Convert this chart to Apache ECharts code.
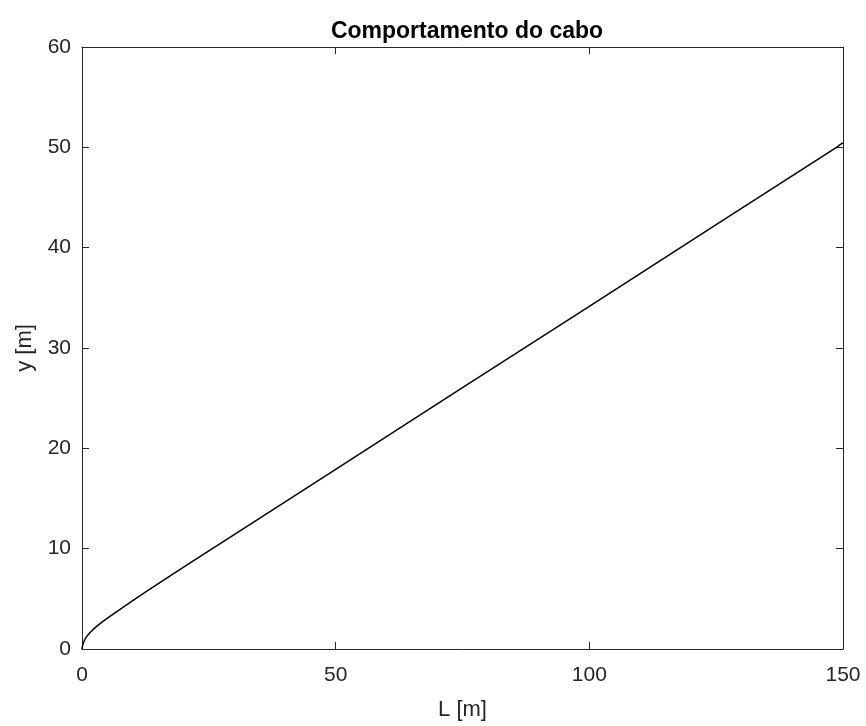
<!DOCTYPE html>
<html>
<head>
<meta charset="utf-8">
<script src="https://cdn.jsdelivr.net/npm/echarts@6/dist/echarts.min.js"></script>
<style>html,body{margin:0;padding:0;background:#fff}#c{width:866px;height:726px}</style>
</head>
<body>
<div id="c"></div>
<script>
const titleText = 'Comportamento do cabo';
const xName = 'L [m]';
const yName = 'y [m]';
const xTicks = [0, 50, 100, 150];
const yTicks = [0, 10, 20, 30, 40, 50, 60];
const lengthL = [0, 0.1, 0.3, 0.6, 1, 1.5, 2.2, 3, 4, 5.5, 7.5, 10, 13, 17, 22, 30, 50, 75, 100, 125, 148.8, 149.5, 150];
const heightY = [0, 0.33, 0.65, 0.98, 1.3, 1.6, 1.95, 2.3, 2.7, 3.25, 3.96, 4.83, 5.84, 7.16, 8.8, 11.41, 17.91, 26.04, 34.16, 42.29, 50.02, 50.3, 50.45];

const data = lengthL.map((v, i) => [v, heightY[i]]);
const axisColor = '#262626';
const font = 'Liberation Sans, Arial, Helvetica, sans-serif';
const chart = echarts.init(document.getElementById('c'));
const baseX = {
  type: 'value', min: xTicks[0], max: xTicks[xTicks.length - 1], interval: xTicks[1] - xTicks[0],
  axisLine: { show: true, onZero: false, lineStyle: { color: axisColor, width: 1 } },
  axisTick: { show: true, inside: true, length: 7, lineStyle: { color: axisColor } },
  splitLine: { show: false }
};
const baseY = {
  type: 'value', min: yTicks[0], max: yTicks[yTicks.length - 1], interval: yTicks[1] - yTicks[0],
  axisLine: { show: true, onZero: false, lineStyle: { color: axisColor, width: 1 } },
  axisTick: { show: true, inside: true, length: 7, lineStyle: { color: axisColor } },
  splitLine: { show: false }
};
chart.setOption({
  animation: false,
  backgroundColor: '#fff',
  title: {
    text: titleText, left: 462, top: 15, textAlign: 'center',
    textStyle: { fontFamily: font, fontSize: 23, fontWeight: 'bold', color: '#000' }
  },
  grid: { left: 82, right: 23, top: 47, bottom: 77, containLabel: false },
  xAxis: [
    Object.assign({}, baseX, {
      position: 'bottom', name: xName, nameLocation: 'middle', nameGap: 50,
      nameTextStyle: { fontFamily: font, fontSize: 22, color: axisColor },
      axisLabel: { show: true, margin: 16, fontFamily: font, fontSize: 21, color: axisColor }
    }),
    Object.assign({}, baseX, { position: 'top', axisLabel: { show: false } })
  ],
  yAxis: [
    Object.assign({}, baseY, {
      position: 'left', name: yName, nameLocation: 'middle', nameGap: 46,
      nameTextStyle: { fontFamily: font, fontSize: 22, color: axisColor },
      axisLabel: { show: true, margin: 11, fontFamily: font, fontSize: 21, color: axisColor }
    }),
    Object.assign({}, baseY, { position: 'right', axisLabel: { show: false } })
  ],
  series: [{
    type: 'line', data: data, showSymbol: false, symbol: 'none', smooth: false,
    xAxisIndex: 0, yAxisIndex: 0,
    lineStyle: { color: '#000', width: 1.5 }
  }]
});
</script>
</body>
</html>
